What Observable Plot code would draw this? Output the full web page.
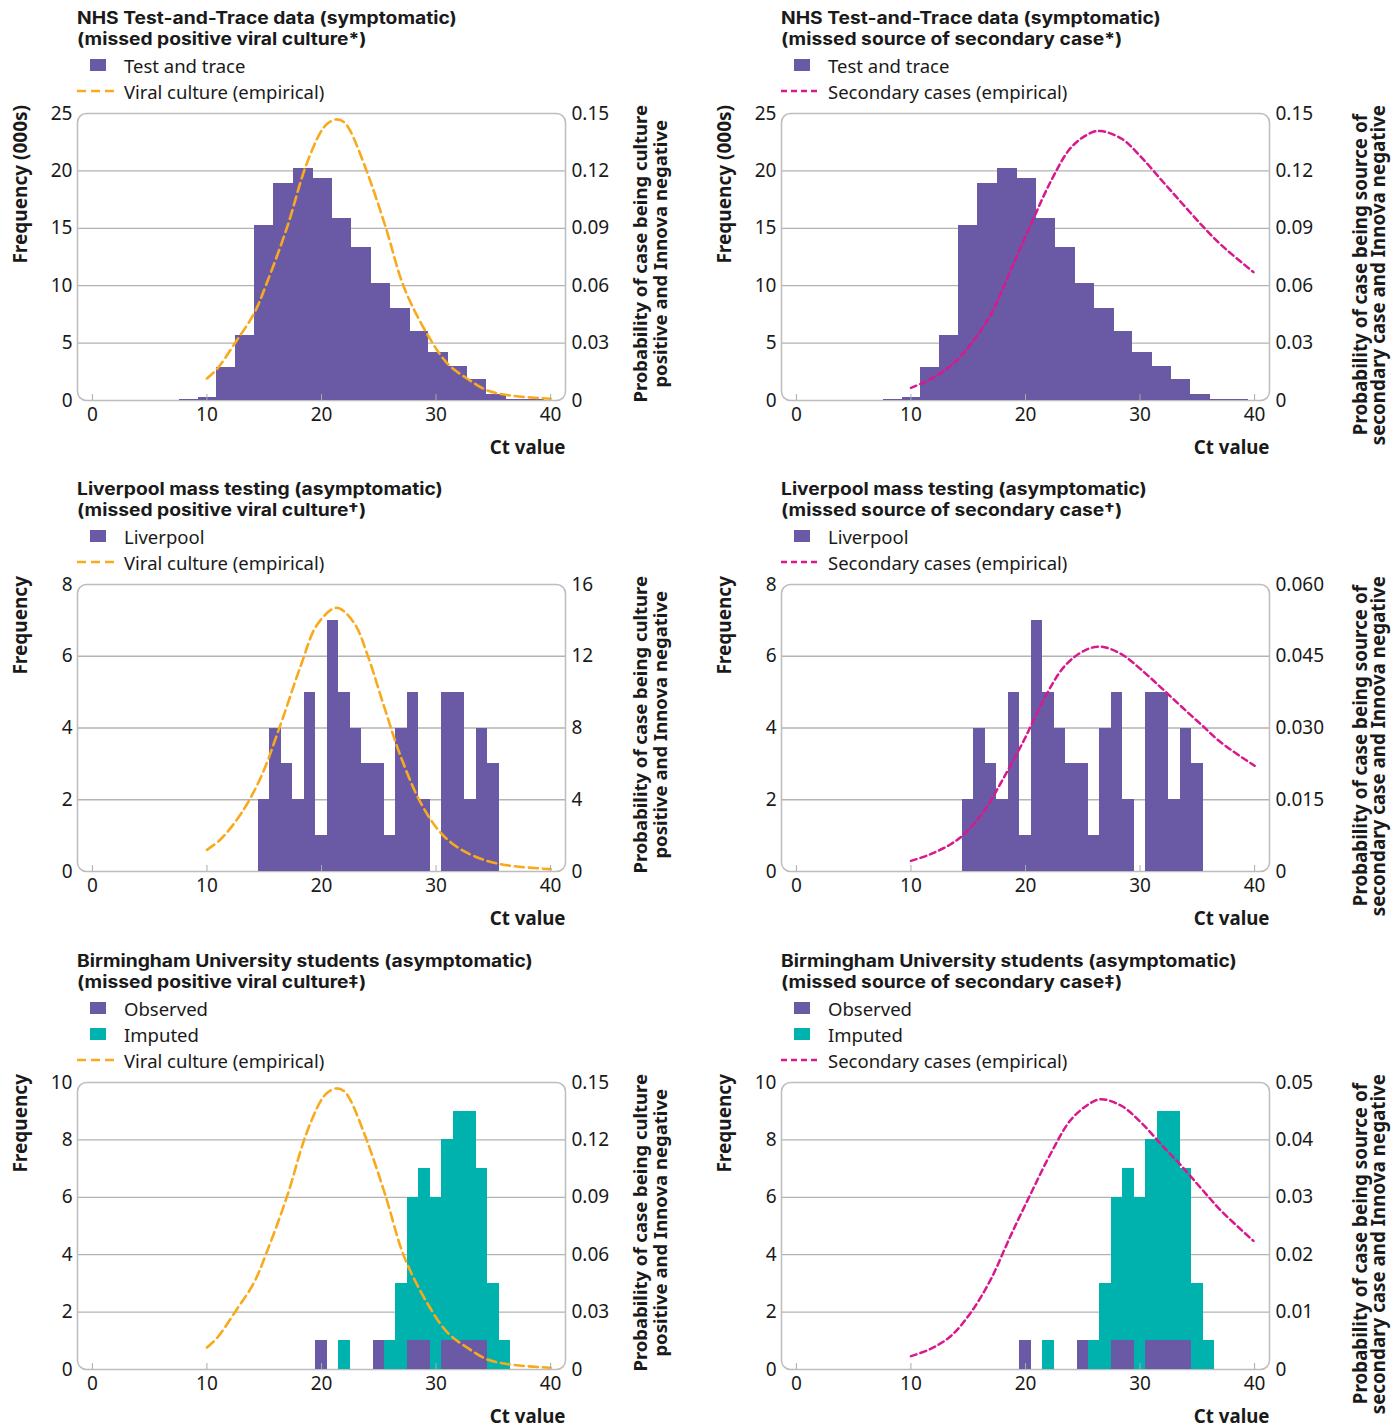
<!DOCTYPE html>
<html><head><meta charset="utf-8">
<script src="https://cdn.jsdelivr.net/npm/d3@7"></script>
<script src="https://cdn.jsdelivr.net/npm/@observablehq/plot@0.6"></script>
<style>
body{margin:0;background:#fff;font-family:"Noto Sans",sans-serif;color:#1a1a1a;}
#root{position:relative;width:1392px;height:1427px;overflow:hidden;}
.panel{position:absolute;width:696px;height:471px;}
.tline{position:absolute;left:77px;height:21px;font-family:Inter,"Noto Sans",sans-serif;font-weight:700;font-size:17.2px;line-height:21px;white-space:nowrap;transform:scaleX(1.12);transform-origin:0 50%;}
.legend{position:absolute;left:77px;top:52px;font-size:18.5px;}
.legend .row{display:flex;align-items:center;height:26px;white-space:nowrap;}
.legend svg{width:40px;height:14px;margin-right:7px;flex:none;}
.vlabel{position:absolute;writing-mode:vertical-rl;transform:rotate(180deg);font-weight:700;text-align:center;white-space:nowrap;}
.plot{position:absolute;left:0;}
</style></head><body><div id="root"></div>
<script>
// ---------- data ----------
const xTicks = [0, 10, 20, 30, 40];

// NHS Test-and-Trace histogram (frequency, thousands)
const nhsEdges = [7.6, 9.27, 10.86, 12.52, 14.16, 15.82, 17.57, 19.3, 21.0, 22.66, 24.4, 26.05, 27.8, 29.37, 31.1, 32.76, 34.42, 36.16, 37.9, 39.5];
const nhsCounts = [0.1, 0.3, 2.9, 5.7, 15.25, 18.9, 20.2, 19.35, 15.85, 13.35, 10.2, 8.0, 6.05, 4.2, 2.95, 1.85, 0.55, 0.12, 0.05];

// Liverpool histogram
const livCt = [15, 16, 17, 18, 19, 20, 21, 22, 23, 24, 25, 26, 27, 28, 29, 30, 31, 32, 33, 34, 35];
const livCounts = [2, 4, 3, 2, 5, 1, 7, 5, 4, 3, 3, 1, 4, 5, 2, 0, 5, 5, 2, 4, 3];

// Birmingham histogram
const bhamCt = [20, 21, 22, 23, 24, 25, 26, 27, 28, 29, 30, 31, 32, 33, 34, 35, 36];
const bhamObserved = [1, 0, 0, 0, 0, 1, 0, 0, 1, 1, 0, 1, 1, 1, 1, 0, 0];
const bhamImputed = [0, 0, 1, 0, 0, 0, 1, 3, 5, 6, 6, 7, 8, 8, 6, 3, 1];

// Viral culture (empirical) curve, probability (NHS and Birmingham panels)
const cultureCt = [10, 10.9, 12.6, 14.1, 15.25, 17.0, 18.6, 19.9, 20.5, 21.3, 21.96, 22.5, 24.0, 25.6, 27.2, 29.2, 31.0, 32.7, 34.5, 36.5, 40];
const cultureP = [0.0115, 0.0166, 0.0314, 0.0453, 0.0618, 0.0906, 0.122, 0.140, 0.1446, 0.1469, 0.1455, 0.141, 0.119, 0.0906, 0.0592, 0.035, 0.0193, 0.0115, 0.0052, 0.0026, 0.0009];

// Viral culture (empirical) curve, Liverpool panel
const livCultureCt = [10, 11.2, 12.94, 14.69, 16.43, 18.18, 19.63, 21.32, 22.83, 24.0, 25.45, 26.9, 28.65, 30.39, 32.14, 34.47, 36.5, 40];
const livCultureV = [1.21, 1.80, 3.19, 5.23, 8.2, 11.45, 13.77, 14.7, 13.87, 12.1, 9.22, 6.44, 3.84, 2.17, 1.24, 0.59, 0.32, 0.13];

// Secondary cases (empirical) curves
const secNhsCt = [10, 11.75, 13.5, 15.25, 17.0, 18.7, 20.5, 22.25, 24.0, 25.75, 26.6, 28.4, 30.1, 31.9, 33.6, 35.4, 37.1, 39.9];
const secNhsP = [0.0066, 0.0113, 0.0183, 0.0296, 0.0453, 0.068, 0.0924, 0.115, 0.1324, 0.140, 0.1408, 0.1368, 0.1272, 0.115, 0.1035, 0.0915, 0.0812, 0.0671];
const secLivCt = [10, 11.72, 13.47, 14.64, 16.4, 18.1, 19.9, 21.6, 23.4, 25.15, 26.6, 28.4, 30.1, 31.85, 33.6, 35.3, 37.1, 40];
const secLivP = [0.00223, 0.00362, 0.0057, 0.0078, 0.0127, 0.0196, 0.0276, 0.036, 0.0429, 0.0462, 0.047, 0.0454, 0.0422, 0.0384, 0.0345, 0.0308, 0.0269, 0.0221];
const secBhamCt = [10, 11.72, 13.47, 15.22, 16.97, 18.7, 20.5, 22.25, 24.0, 25.75, 26.6, 28.4, 30.1, 31.85, 33.6, 35.4, 37.1, 39.9];
const secBhamP = [0.00233, 0.0036, 0.0058, 0.0099, 0.0157, 0.0233, 0.0308, 0.0378, 0.0436, 0.0465, 0.0471, 0.0459, 0.043, 0.0392, 0.0355, 0.0314, 0.0276, 0.0224];

// Axis ticks and labels
const nhsLeftTicks = [0, 5, 10, 15, 20, 25];
const nhsRightLabels = ["0", "0.03", "0.06", "0.09", "0.12", "0.15"];
const livLeftTicks = [0, 2, 4, 6, 8];
const livCultureRightLabels = ["0", "4", "8", "12", "16"];
const livSecRightLabels = ["0", "0.015", "0.030", "0.045", "0.060"];
const bhamLeftTicks = [0, 2, 4, 6, 8, 10];
const bhamCultureRightLabels = ["0", "0.03", "0.06", "0.09", "0.12", "0.15"];
const bhamSecRightLabels = ["0", "0.01", "0.02", "0.03", "0.04", "0.05"];

// ---------- styling ----------
const PURPLE = "#6a5aa6", TEAL = "#00b2ae", ORANGE = "#f9aa1c", MAGENTA = "#d8188c";
const ORANGE_DASH = "9,5", MAGENTA_DASH = "6,4";
const FONT = '"Noto Sans", sans-serif';

const nhsRows = nhsCounts.map((n, i) => ({x1: nhsEdges[i], x2: nhsEdges[i + 1], n}));
const livRows = livCt.map((c, i) => ({x1: c - 0.5, x2: c + 0.5, n: livCounts[i]})).filter(d => d.n > 0);
const bhamObsRows = bhamCt.map((c, i) => ({x1: c - 0.5, x2: c + 0.5, y1: 0, y2: bhamObserved[i]})).filter(d => d.y2 > d.y1);
const bhamImpRows = bhamCt.map((c, i) => ({x1: c - 0.5, x2: c + 0.5, y1: bhamObserved[i], y2: bhamObserved[i] + bhamImputed[i]})).filter(d => d.y2 > d.y1);

const nhsBars = () => [Plot.rect(nhsRows, {x1: "x1", x2: "x2", y1: d => 0, y2: "n", fill: PURPLE, shapeRendering: "crispEdges"})];
const livBars = () => [Plot.rect(livRows, {x1: "x1", x2: "x2", y1: d => 0, y2: "n", fill: PURPLE, shapeRendering: "crispEdges"})];
const bhamBars = () => [
  Plot.rect(bhamImpRows, {x1: "x1", x2: "x2", y1: "y1", y2: "y2", fill: TEAL, shapeRendering: "crispEdges"}),
  Plot.rect(bhamObsRows, {x1: "x1", x2: "x2", y1: "y1", y2: "y2", fill: PURPLE, shapeRendering: "crispEdges"})
];

const cultureLeg = {type: "dash", color: ORANGE, dash: ORANGE_DASH, label: "Viral culture (empirical)"};
const secLeg = {type: "dash", color: MAGENTA, dash: MAGENTA_DASH, label: "Secondary cases (empirical)"};
const cultureRight = ["Probability of case being culture", "positive and Innova negative"];
const secRight = ["Probability of case being source of", "secondary case and Innova negative"];

const panels = [
  {col: 0, row: 0, title: ["NHS Test-and-Trace data (symptomatic)", "(missed positive viral culture*)"],
   legend: [{type: "rect", color: PURPLE, label: "Test and trace"}, cultureLeg],
   leftLabel: "Frequency (000s)", rightLabel: cultureRight,
   leftTicks: nhsLeftTicks, rightLabels: nhsRightLabels, rightMax: 0.15,
   bars: nhsBars, curveCt: cultureCt, curveV: cultureP, color: ORANGE, dash: ORANGE_DASH, sw: 2.6},
  {col: 1, row: 0, title: ["NHS Test-and-Trace data (symptomatic)", "(missed source of secondary case*)"],
   legend: [{type: "rect", color: PURPLE, label: "Test and trace"}, secLeg],
   leftLabel: "Frequency (000s)", rightLabel: secRight,
   leftTicks: nhsLeftTicks, rightLabels: nhsRightLabels, rightMax: 0.15,
   bars: nhsBars, curveCt: secNhsCt, curveV: secNhsP, color: MAGENTA, dash: MAGENTA_DASH, sw: 2.5},
  {col: 0, row: 1, title: ["Liverpool mass testing (asymptomatic)", "(missed positive viral culture\u2020)"],
   legend: [{type: "rect", color: PURPLE, label: "Liverpool"}, cultureLeg],
   leftLabel: "Frequency", rightLabel: cultureRight,
   leftTicks: livLeftTicks, rightLabels: livCultureRightLabels, rightMax: 16,
   bars: livBars, curveCt: livCultureCt, curveV: livCultureV, color: ORANGE, dash: ORANGE_DASH, sw: 2.6},
  {col: 1, row: 1, title: ["Liverpool mass testing (asymptomatic)", "(missed source of secondary case\u2020)"],
   legend: [{type: "rect", color: PURPLE, label: "Liverpool"}, secLeg],
   leftLabel: "Frequency", rightLabel: secRight,
   leftTicks: livLeftTicks, rightLabels: livSecRightLabels, rightMax: 0.06,
   bars: livBars, curveCt: secLivCt, curveV: secLivP, color: MAGENTA, dash: MAGENTA_DASH, sw: 2.5},
  {col: 0, row: 2, title: ["Birmingham University students (asymptomatic)", "(missed positive viral culture\u2021)"],
   legend: [{type: "rect", color: PURPLE, label: "Observed"}, {type: "rect", color: TEAL, label: "Imputed"}, cultureLeg],
   leftLabel: "Frequency", rightLabel: cultureRight,
   leftTicks: bhamLeftTicks, rightLabels: bhamCultureRightLabels, rightMax: 0.15,
   bars: bhamBars, curveCt: cultureCt, curveV: cultureP, color: ORANGE, dash: ORANGE_DASH, sw: 2.6},
  {col: 1, row: 2, title: ["Birmingham University students (asymptomatic)", "(missed source of secondary case\u2021)"],
   legend: [{type: "rect", color: PURPLE, label: "Observed"}, {type: "rect", color: TEAL, label: "Imputed"}, secLeg],
   leftLabel: "Frequency", rightLabel: secRight,
   leftTicks: bhamLeftTicks, rightLabels: bhamSecRightLabels, rightMax: 0.05,
   bars: bhamBars, curveCt: secBhamCt, curveV: secBhamP, color: MAGENTA, dash: MAGENTA_DASH, sw: 2.5}
];

const rowTop = [0, 471, 943];
const MT = 12, MB = 66, FRAME_H = 287;

const root = document.getElementById("root");
for (const p of panels) {
  const div = document.createElement("div");
  div.className = "panel";
  div.style.left = (p.col * 704) + "px";
  div.style.top = rowTop[p.row] + "px";
  root.appendChild(div);

  p.title.forEach((line, i) => {
    const t = document.createElement("div");
    t.className = "tline";
    t.style.top = (7 + 21 * i) + "px";
    t.textContent = line;
    div.appendChild(t);
  });

  const leg = document.createElement("div");
  leg.className = "legend";
  for (const l of p.legend) {
    const r = document.createElement("div");
    r.className = "row";
    const sw = l.type === "rect"
      ? `<svg viewBox="0 0 40 14"><rect x="13" y="1" width="16" height="12" fill="${l.color}"/></svg>`
      : `<svg viewBox="0 0 40 14"><line x1="0" x2="40" y1="7" y2="7" stroke="${l.color}" stroke-width="2.5" stroke-dasharray="${l.dash}"/></svg>`;
    r.innerHTML = sw + `<span>${l.label}</span>`;
    leg.appendChild(r);
  }
  div.appendChild(leg);

  const frameTop = 53 + 26 * p.legend.length + 8;
  const leftMax = p.leftTicks[p.leftTicks.length - 1];
  const k = leftMax / p.rightMax;
  const rmap = new Map(p.leftTicks.map((v, i) => [v, p.rightLabels[i]]));
  const curveRows = p.curveCt.map((c, i) => ({ct: c, v: p.curveV[i] * k}));

  const chart = Plot.plot({
    width: 696, height: MT + FRAME_H + MB,
    marginLeft: 77, marginRight: 131, marginTop: MT, marginBottom: MB,
    style: {fontFamily: FONT, fontSize: "19px", color: "#1a1a1a", background: "transparent", overflow: "visible"},
    x: {domain: [-1.3, 41.3]},
    y: {domain: [0, leftMax]},
    marks: [
      Plot.gridY(p.leftTicks.slice(1, -1), {stroke: "#b3b3b3", strokeOpacity: 1, strokeWidth: 1.3}),
      Plot.frame({stroke: "#bdbdbd", strokeWidth: 1.5, rx: 9}),
      ...p.bars(),
      Plot.line(curveRows, {x: "ct", y: "v", curve: "catmull-rom", stroke: p.color, strokeWidth: p.sw, strokeDasharray: p.dash}),
      Plot.axisX(xTicks, {tickSize: 6, dy: -6, tickFormat: () => "", stroke: "#aaaaaa", label: null}),
      Plot.axisX(xTicks, {tickSize: 0, tickPadding: 7, label: null}),
      Plot.axisY(p.leftTicks, {tickSize: 0, tickPadding: 5, label: null}),
      Plot.axisY(p.leftTicks, {anchor: "right", tickSize: 0, tickPadding: 6, label: null, tickFormat: d => rmap.get(d)}),
      Plot.text(["Ct value"], {text: d => d, frameAnchor: "bottom-right", dy: 53, textAnchor: "end", fontWeight: "bold", fontSize: 18.7})
    ]
  });
  chart.classList.add("plot");
  chart.style.top = (frameTop - MT) + "px";
  div.appendChild(chart);

  const ll = document.createElement("div");
  ll.className = "vlabel";
  ll.style.fontSize = "19px";
  ll.style.lineHeight = "20px";
  ll.style.left = "10px";
  ll.style.top = (frameTop - 8) + "px";
  ll.textContent = p.leftLabel;
  div.appendChild(ll);

  const rl = document.createElement("div");
  rl.className = "vlabel";
  rl.style.fontSize = p.col === 0 ? "18.5px" : "18.8px";
  rl.style.lineHeight = p.col === 0 ? "20px" : "18px";
  rl.style.left = (p.col === 0 ? 630 : 647) + "px";
  rl.style.top = (frameTop - 8) + "px";
  rl.innerHTML = p.rightLabel.join("<br>");
  div.appendChild(rl);
}
</script></body></html>
